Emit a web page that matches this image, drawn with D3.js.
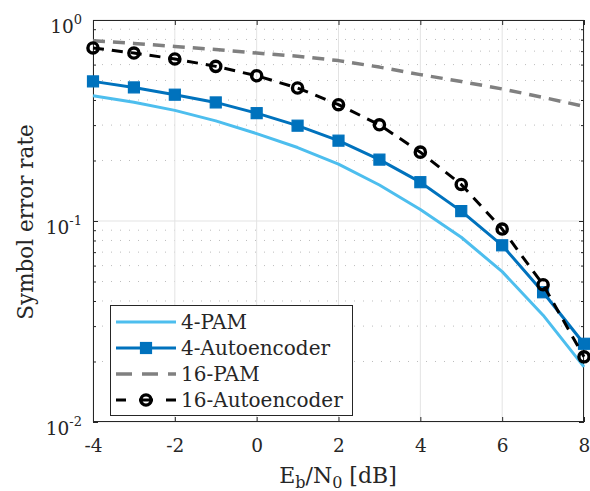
<!DOCTYPE html>
<html>
<head>
<meta charset="utf-8">
<script src="https://cdn.jsdelivr.net/npm/d3@7"></script>
<style>
  html, body { margin: 0; padding: 0; background: #fff; }
  svg { display: block; }
  text { font-family: "DejaVu Serif", "Liberation Serif", serif; fill: #262626; }
</style>
</head>
<body>
<svg id="chart" width="590" height="491"></svg>
<script>
// ---- data ----
const ebn0 = [-4, -3, -2, -1, 0, 1, 2, 3, 4, 5, 6, 7, 8];
const pam4 = [0.42, 0.39, 0.355, 0.315, 0.272, 0.232, 0.192, 0.151, 0.114, 0.083, 0.056, 0.034, 0.0188];
const ae4 = [0.495, 0.462, 0.425, 0.389, 0.344, 0.298, 0.251, 0.202, 0.156, 0.112, 0.0757, 0.0442, 0.0245];
const pam16 = [0.789, 0.765, 0.739, 0.713, 0.685, 0.66, 0.628, 0.583, 0.535, 0.494, 0.454, 0.412, 0.372];
const ae16 = [0.726, 0.685, 0.64, 0.588, 0.528, 0.459, 0.379, 0.301, 0.22, 0.152, 0.0912, 0.0482, 0.0211];
const seriesNames = ["4-PAM", "4-Autoencoder", "16-PAM", "16-Autoencoder"];
const xTicks = [-4, -2, 0, 2, 4, 6, 8];
const yTicks = [0.01, 0.1, 1];
const yTickExp = ["-2", "-1", "0"];
const xLabel = ["E", "b", "/N", "0", " [dB]"];
const yLabel = "Symbol error rate";

// ---- layout ----
const L = 93, R = 584, T = 20, B = 422;
const svg = d3.select("#chart");
const x = d3.scaleLinear().domain([-4, 8]).range([L, R]);
const y = d3.scaleLog().domain([0.01, 1]).range([B, T]);
const axisCol = "#262626";

// minor values for log grid
const minor = [];
[0.01, 0.1].forEach(d => { for (let k = 2; k <= 9; k++) minor.push(d * k); });

// grid
const g = svg.append("g");
g.selectAll(".mg").data(minor).join("line")
  .attr("x1", L).attr("x2", R).attr("y1", d => y(d)).attr("y2", d => y(d))
  .attr("stroke", "#bdbdbd").attr("stroke-width", 1).attr("stroke-dasharray", "1,8");
g.selectAll(".xg").data(xTicks).join("line")
  .attr("x1", d => x(d)).attr("x2", d => x(d)).attr("y1", T).attr("y2", B)
  .attr("stroke", "#e3e3e3").attr("stroke-width", 1);
g.selectAll(".yg").data(yTicks).join("line")
  .attr("x1", L).attr("x2", R).attr("y1", d => y(d)).attr("y2", d => y(d))
  .attr("stroke", "#e3e3e3").attr("stroke-width", 1);

// axes (ticks inward)
function styleAxis(sel) {
  sel.select(".domain").remove();
  sel.selectAll("line").attr("stroke", axisCol);
  sel.selectAll("text").attr("fill", axisCol);
}
const xb = svg.append("g").attr("transform", `translate(0,${B})`)
  .call(d3.axisBottom(x).tickValues(xTicks).tickSize(-5).tickPadding(17).tickFormat(d3.format("d")));
styleAxis(xb);
xb.selectAll("text").style("font-family", "DejaVu Serif").style("font-size", "18.5px").text(d => String(d).replace("−", "-"));
const xt = svg.append("g").attr("transform", `translate(0,${T})`)
  .call(d3.axisTop(x).tickValues(xTicks).tickSize(-5).tickFormat(""));
styleAxis(xt);
const yl = svg.append("g").attr("transform", `translate(${L},0)`)
  .call(d3.axisLeft(y).tickValues(yTicks).tickSize(-5).tickFormat(""));
styleAxis(yl);
const ylm = svg.append("g").attr("transform", `translate(${L},0)`)
  .call(d3.axisLeft(y).tickValues(minor).tickSize(-3).tickFormat(""));
styleAxis(ylm);
const yr = svg.append("g").attr("transform", `translate(${R},0)`)
  .call(d3.axisRight(y).tickValues(yTicks).tickSize(-5).tickFormat(""));
styleAxis(yr);
const yrm = svg.append("g").attr("transform", `translate(${R},0)`)
  .call(d3.axisRight(y).tickValues(minor).tickSize(-3).tickFormat(""));
styleAxis(yrm);

// y tick labels 10^n
yTicks.forEach((v, i) => {
  const t = svg.append("text").attr("x", 82).attr("y", y(v) + 13)
    .attr("text-anchor", "end").style("font-size", "18.5px");
  t.append("tspan").text("10");
  t.append("tspan").attr("dy", -9).style("font-size", "13px").text(yTickExp[i]);
});

// box
svg.append("rect").attr("x", L + 0.5).attr("y", T + 0.5).attr("width", R - L - 1).attr("height", B - T - 1)
  .attr("fill", "none").attr("stroke", axisCol).attr("stroke-width", 1);

// series
const styles = [
  { data: pam4, color: "#4DBEEE", width: 3, dash: null, legDash: null, marker: null },
  { data: ae4, color: "#0072BD", width: 3, dash: null, legDash: null, marker: "square" },
  { data: pam16, color: "#808080", width: 3.5, dash: "12,8", legDash: "16,10", marker: null },
  { data: ae16, color: "#000000", width: 3, dash: "11,8", legDash: "10,13,14,13,10", marker: "circle" }
];
const line = d3.line().x((d, i) => x(ebn0[i])).y(d => y(d));
function drawMarker(sel, type, color) {
  if (type === "square") {
    sel.append("rect").attr("x", -5.5).attr("y", -5.5).attr("width", 11).attr("height", 11)
      .attr("fill", color).attr("stroke", color).attr("stroke-width", 1.2);
  } else if (type === "circle") {
    sel.append("circle").attr("r", 5.1).attr("fill", "none")
      .attr("stroke", color).attr("stroke-width", 3.4);
  }
}
styles.forEach(s => {
  svg.append("path").datum(s.data).attr("d", line)
    .attr("fill", "none").attr("stroke", s.color).attr("stroke-width", s.width)
    .attr("stroke-dasharray", s.dash).attr("stroke-linejoin", "round");
  if (s.marker) {
    s.data.forEach((v, i) => {
      const m = svg.append("g").attr("transform", `translate(${x(ebn0[i])},${y(v)})`);
      drawMarker(m, s.marker, s.color);
    });
  }
});

// legend
const lg = svg.append("g");
lg.append("rect").attr("x", 110.5).attr("y", 305.5).attr("width", 242).attr("height", 110)
  .attr("fill", "#fff").attr("stroke", axisCol).attr("stroke-width", 1);
const rowY = [322, 348, 374, 400];
styles.forEach((s, i) => {
  lg.append("line").attr("x1", 116).attr("x2", 176).attr("y1", rowY[i]).attr("y2", rowY[i])
    .attr("stroke", s.color).attr("stroke-width", s.width)
    .attr("stroke-dasharray", s.legDash);
  if (s.marker) {
    const m = lg.append("g").attr("transform", `translate(146,${rowY[i]})`);
    drawMarker(m, s.marker, s.color);
  }
  lg.append("text").attr("x", 181).attr("y", rowY[i] + 7).style("font-size", "20px").text(seriesNames[i]);
});

// axis labels
const xl = svg.append("text").attr("x", 338).attr("y", 483).attr("text-anchor", "middle").style("font-size", "22px");
xl.append("tspan").text(xLabel[0]);
xl.append("tspan").attr("dy", 5).style("font-size", "16px").text(xLabel[1]);
xl.append("tspan").attr("dy", -5).text(xLabel[2]);
xl.append("tspan").attr("dy", 5).style("font-size", "16px").text(xLabel[3]);
xl.append("tspan").attr("dy", -5).text(xLabel[4]);

svg.append("text").attr("transform", "translate(33,222) rotate(-90)")
  .attr("text-anchor", "middle").style("font-size", "21.5px").text(yLabel);
</script>
</body>
</html>
